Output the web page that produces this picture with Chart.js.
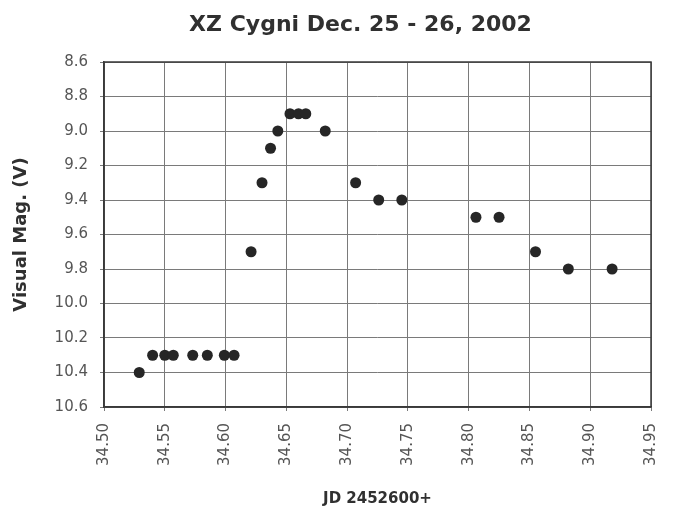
<!DOCTYPE html>
<html>
<head>
<meta charset="utf-8">
<script src="https://cdn.jsdelivr.net/npm/chart.js@4/dist/chart.umd.min.js"></script>
<style>
  html, body { margin: 0; padding: 0; background: #ffffff; }
  #wrap { width: 681px; height: 513px; }
</style>
</head>
<body>
<div id="wrap"><canvas id="c" width="681" height="513"></canvas></div>
<script>
// ---- data ----
const jd = [34.529, 34.540, 34.550, 34.557, 34.573, 34.585, 34.599, 34.607,
            34.621, 34.630, 34.637, 34.643, 34.653, 34.660, 34.666, 34.682,
            34.707, 34.726, 34.745, 34.806, 34.825, 34.855, 34.882, 34.918];
const mag = [10.4, 10.3, 10.3, 10.3, 10.3, 10.3, 10.3, 10.3,
             9.7, 9.3, 9.1, 9.0, 8.9, 8.9, 8.9, 9.0,
             9.3, 9.4, 9.4, 9.5, 9.5, 9.7, 9.8, 9.8];
const xTicks = [34.50, 34.55, 34.60, 34.65, 34.70, 34.75, 34.80, 34.85, 34.90, 34.95];
const xTickLabels = ["34.50", "34.55", "34.60", "34.65", "34.70", "34.75", "34.80", "34.85", "34.90", "34.95"];
const yTicks = [8.6, 8.8, 9.0, 9.2, 9.4, 9.6, 9.8, 10.0, 10.2, 10.4, 10.6];
const yTickLabels = ["8.6", "8.8", "9.0", "9.2", "9.4", "9.6", "9.8", "10.0", "10.2", "10.4", "10.6"];
const chartTitle = "XZ Cygni Dec. 25 - 26, 2002";
const xTitle = "JD 2452600+";
const yTitle = "Visual Mag. (V)";

const points = jd.map((x, i) => ({ x: x, y: mag[i] }));

const FONT = "'DejaVu Sans', 'Liberation Sans', sans-serif";
const gridColor = '#7a7a7a';

new Chart(document.getElementById('c'), {
  type: 'scatter',
  data: {
    datasets: [{
      data: points,
      backgroundColor: '#262626',
      borderColor: '#262626',
      pointRadius: 5.5,
      pointHoverRadius: 5.5,
      borderWidth: 0
    }]
  },
  options: {
    responsive: false,
    devicePixelRatio: 1,
    animation: false,
    layout: { padding: { left: 48, right: 8, top: 0, bottom: 0 } },
    plugins: {
      legend: { display: false },
      tooltip: { enabled: false },
      title: {
        display: true,
        text: chartTitle,
        color: '#303030',
        font: { family: FONT, size: 22, weight: 'bold' },
        padding: { top: 12, bottom: 23.6 }
      }
    },
    scales: {
      x: {
        type: 'linear',
        position: 'bottom',
        min: 34.50,
        max: 34.95,
        afterBuildTicks: (scale) => { scale.ticks = xTicks.map(v => ({ value: v })); },
        afterFit: (scale) => { scale.height = 106; },
        ticks: {
          autoSkip: false,
          minRotation: 90,
          maxRotation: 90,
          padding: 12,
          color: '#555555',
          font: { family: FONT, size: 15 },
          callback: (value, index) => xTickLabels[index]
        },
        grid: { color: gridColor, lineWidth: 1, drawTicks: true, tickLength: 4 },
        border: { display: true, color: '#3a3a3a', width: 1.5 },
        title: {
          display: true,
          text: xTitle,
          color: '#303030',
          font: { family: FONT, size: 15, weight: 'bold' },
          padding: { top: 4, bottom: 5 }
        }
      },
      y: {
        type: 'linear',
        position: 'left',
        reverse: true,
        min: 8.6,
        max: 10.6,
        afterBuildTicks: (scale) => { scale.ticks = yTicks.map(v => ({ value: v })); },
        afterFit: (scale) => { scale.width = 56; },
        ticks: {
          autoSkip: false,
          padding: 12,
          color: '#555555',
          font: { family: FONT, size: 15 },
          callback: (value, index) => yTickLabels[index]
        },
        grid: { color: gridColor, lineWidth: 1, drawTicks: true, tickLength: 4 },
        border: { display: true, color: '#3a3a3a', width: 1.5 },
        title: {
          display: true,
          text: yTitle,
          color: '#303030',
          font: { family: FONT, size: 18, weight: 'bold' },
          padding: { top: -37.8, bottom: 0 }
        }
      }
    }
  },
  plugins: [{
    id: 'plotFrame',
    afterDraw(chart) {
      const a = chart.chartArea, ctx = chart.ctx;
      ctx.save();
      ctx.strokeStyle = '#3a3a3a';
      ctx.lineWidth = 1.5;
      ctx.strokeRect(a.left, a.top, a.right - a.left, a.bottom - a.top);
      ctx.restore();
    }
  }]
});
</script>
</body>
</html>
